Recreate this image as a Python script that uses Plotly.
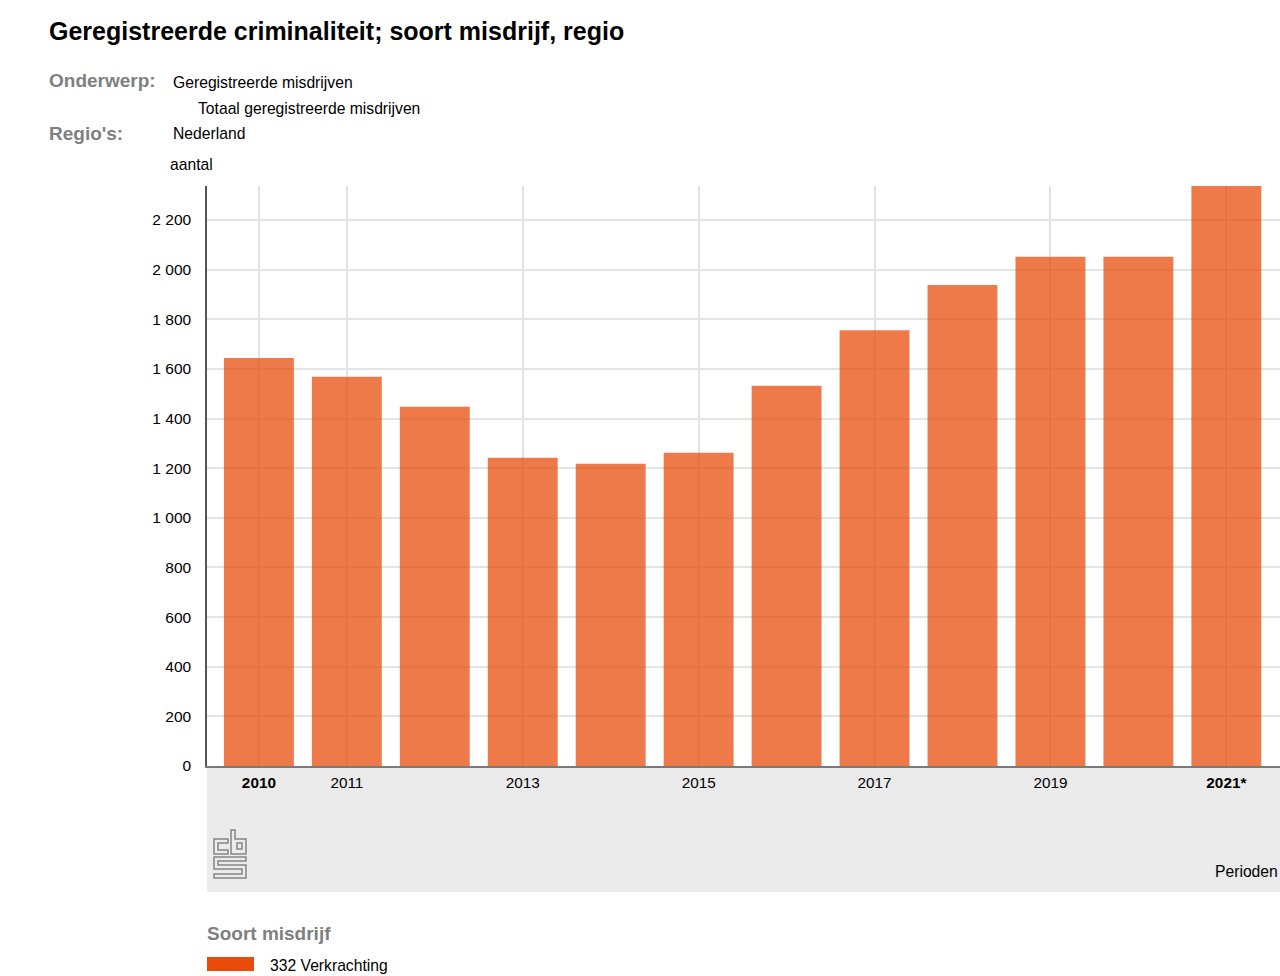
import plotly.graph_objects as go

# ---- data ----
periods = ["2010", "2011", "2012", "2013", "2014", "2015", "2016", "2017", "2018", "2019", "2020", "2021*"]
verkrachting = [1644, 1568, 1448, 1242, 1218, 1262, 1532, 1756, 1938, 2052, 2052, 2345]
tick_periods = ["2010", "2011", "2013", "2015", "2017", "2019", "2021*"]
tick_text = ["<b>2010</b>", "2011", "2013", "2015", "2017", "2019", "<b>2021*</b>"]
y_ticks = [0, 200, 400, 600, 800, 1000, 1200, 1400, 1600, 1800, 2000, 2200]
series_name = "332 Verkrachting"

W, H = 1280, 976
L, R, T, B = 207, 1280, 186, 766
FONT = "Liberation Sans, Arial, Helvetica, sans-serif"
BASE = "#E94C0A"


def px(x):
    return (x - L) / (R - L)


def py(y):
    return (B - y) / (B - T)


fig = go.Figure()
fig.add_trace(go.Bar(
    x=periods, y=verkrachting, name=series_name,
    marker=dict(color=BASE, opacity=0.74, line=dict(width=0)),
    width=0.795, cliponaxis=True, hoverinfo="x+y",
))

shapes = []
# grey band under the x axis
shapes.append(dict(type="rect", xref="paper", yref="paper", x0=0, x1=1, y0=py(892), y1=py(767),
                   fillcolor="#EBEBEB", line=dict(width=0), layer="below"))

# CBS logo (outline)
ox, oy = 214, 830


def path(points):
    s = "M " + " L ".join(f"{px(ox + a):.5f},{py(oy + b):.5f}" for a, b in points) + " Z"
    return s


logo_parts = [
    [(0, 9), (14, 9), (14, 13), (4, 13), (4, 20), (14, 20), (14, 24), (0, 24)],
    [(17, 0), (21, 0), (21, 9), (32, 9), (32, 24), (17, 24)],
    [(23, 13), (28, 13), (28, 19), (23, 19)],
    [(0, 27), (32, 27), (32, 31), (4, 31), (4, 35), (32, 35), (32, 48), (0, 48), (0, 44), (28, 44), (28, 39), (0, 39)],
]
for p in logo_parts:
    shapes.append(dict(type="path", xref="paper", yref="paper", path=path(p),
                       line=dict(color="#858585", width=1.5), fillcolor="rgba(0,0,0,0)"))

# legend swatch
shapes.append(dict(type="rect", xref="paper", yref="paper", x0=px(207), x1=px(254), y0=py(971), y1=py(957),
                   fillcolor=BASE, line=dict(width=0)))

annotations = []


def text(x, y, s, size, color="#000000", bold=False, xanchor="left"):
    annotations.append(dict(
        xref="paper", yref="paper", x=px(x - 2 if xanchor == "left" else x + 2), y=py(y),
        text=f"<b>{s}</b>" if bold else s,
        showarrow=False, xanchor=xanchor, yanchor="middle",
        font=dict(family=FONT, size=size, color=color),
    ))


text(49, 31, "Geregistreerde criminaliteit; soort misdrijf, regio", 25, bold=True)
text(49, 81, "Onderwerp:", 19, color="#7F7F7F", bold=True)
text(173, 82, "Geregistreerde misdrijven", 15.7)
text(198, 108, "Totaal geregistreerde misdrijven", 15.7)
text(49, 133, "Regio's:", 19, color="#7F7F7F", bold=True)
text(173, 133, "Nederland", 15.7)
text(170, 164, "aantal", 15.7)
text(1278, 871, "Perioden", 15.7, xanchor="right")
text(207, 933, "Soort misdrijf", 19, color="#7F7F7F", bold=True)
text(270, 965, series_name, 15.7)

fig.update_layout(
    width=W, height=H,
    margin=dict(l=L, r=W - R, t=T, b=H - B, pad=0),
    paper_bgcolor="white", plot_bgcolor="white",
    separators=", ",
    showlegend=False,
    bargap=0.2,
    shapes=shapes, annotations=annotations,
    font=dict(family=FONT, size=15, color="#000000"),
)
fig.update_xaxes(
    type="category", range=[-0.59, 11.61],
    tickmode="array", tickvals=tick_periods, ticktext=tick_text,
    showgrid=True, gridcolor="#E2E2E2", gridwidth=1.5,
    showline=True, linecolor="#7A7A7A", linewidth=2,
    ticks="", ticklabelstandoff=2, tickfont=dict(size=15.3, family=FONT),
    fixedrange=True, zeroline=False,
)
fig.update_yaxes(
    range=[0, 2337], tickmode="array", tickvals=y_ticks,
    separatethousands=True,
    showgrid=True, gridcolor="#E4E4E4", gridwidth=1.5,
    showline=True, linecolor="#555555", linewidth=1.5,
    ticks="", ticklabelstandoff=11, tickfont=dict(size=15.5, family=FONT),
    zeroline=False, fixedrange=True,
)

fig.write_html("out.html", config={"displayModeBar": False},
               post_script="document.body.style.margin='0';document.body.style.overflow='hidden';")
